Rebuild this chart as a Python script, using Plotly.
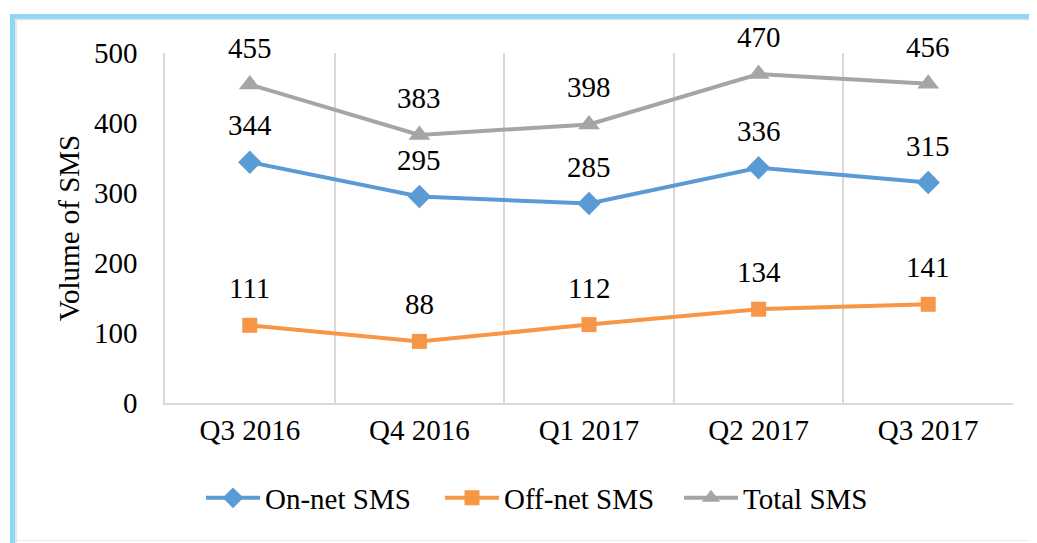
import plotly.graph_objects as go

categories = ["Q3 2016", "Q4 2016", "Q1 2017", "Q2 2017", "Q3 2017"]
on_net = [344, 295, 285, 336, 315]
off_net = [111, 88, 112, 134, 141]
total = [455, 383, 398, 470, 456]

# the page body has an 8px margin, so work in reference coordinates minus 8
OFF = 8
W, H = 1037 - OFF, 543 - OFF
L, R, T = 165 - OFF, 24, 53 - OFF
PH = 350
B = H - T - PH
FONT = "Liberation Serif"
FS = 29

series = [
    ("On-net SMS", on_net, "#5B9BD5", "diamond", 18),
    ("Off-net SMS", off_net, "#F79646", "square", 15),
    ("Total SMS", total, "#A5A5A5", "triangle-up", 19),
]

fig = go.Figure()
annotations = []
for name, vals, color, sym, size in series:
    fig.add_trace(go.Scatter(
        x=categories, y=vals, name=name, mode="lines+markers",
        line=dict(color=color, width=4),
        marker=dict(symbol=sym, size=size, color=color, line=dict(width=0)),
    ))
    for c, v in zip(categories, vals):
        annotations.append(dict(x=c, y=v, text=str(v), showarrow=False,
                                yshift=37, font=dict(size=FS, color="black", family=FONT)))

pw = W - L - R
def px(x):  # reference x -> paper
    return (x - OFF - L) / pw
def py(y):  # reference y -> paper
    return (H - B - (y - OFF)) / PH

shapes = [
    dict(type="line", xref="paper", yref="paper", x0=px(12.5), x1=px(1045), y0=py(16.5), y1=py(16.5),
         line=dict(color="#8DD8F5", width=5), layer="below"),
    dict(type="line", xref="paper", yref="paper", x0=px(12.5), x1=px(12.5), y0=py(14), y1=py(550),
         line=dict(color="#8DD8F5", width=5), layer="below"),
    dict(type="line", xref="paper", yref="paper", x0=px(16), x1=px(1045), y0=py(19.5), y1=py(19.5),
         line=dict(color="#E0E0E0", width=1.5), layer="below"),
    dict(type="line", xref="paper", yref="paper", x0=px(16), x1=px(16), y0=py(19.5), y1=py(550),
         line=dict(color="#E0E0E0", width=1.5), layer="below"),
    dict(type="line", xref="paper", yref="paper", x0=px(16), x1=px(1045), y0=py(540.5), y1=py(540.5),
         line=dict(color="#EBEBEB", width=1), layer="below"),
]

fig.update_layout(
    width=W, height=H,
    margin=dict(l=L, r=R, t=T, b=B),
    paper_bgcolor="white", plot_bgcolor="white",
    font=dict(family=FONT, size=FS, color="black"),
    showlegend=True,
    legend=dict(orientation="h", x=px(201), xanchor="left", y=py(498), yanchor="middle",
                font=dict(size=FS, family=FONT, color="black"), itemwidth=54, entrywidth=170,
                tracegroupgap=0, bgcolor="rgba(0,0,0,0)"),
    annotations=annotations,
    shapes=shapes,
    xaxis=dict(type="category", tickson="boundaries", showgrid=True, gridcolor="#D9D9D9", gridwidth=1.5,
               showline=True, linecolor="#D9D9D9", linewidth=1.5, ticks="outside", ticklen=24,
               tickcolor="rgba(0,0,0,0)", tickfont=dict(size=FS, family=FONT),
               range=[-0.5, 4.5], zeroline=False),
    yaxis=dict(range=[0, 500], dtick=100, showgrid=False, zeroline=False, showline=True,
               linecolor="#D9D9D9", linewidth=1.5,
               ticks="outside", ticklen=20, tickcolor="rgba(0,0,0,0)",
               tickfont=dict(size=FS, family=FONT),
               title=dict(text="Volume of SMS", font=dict(size=FS, family=FONT), standoff=6)),
)

fig.write_html("out.html")
